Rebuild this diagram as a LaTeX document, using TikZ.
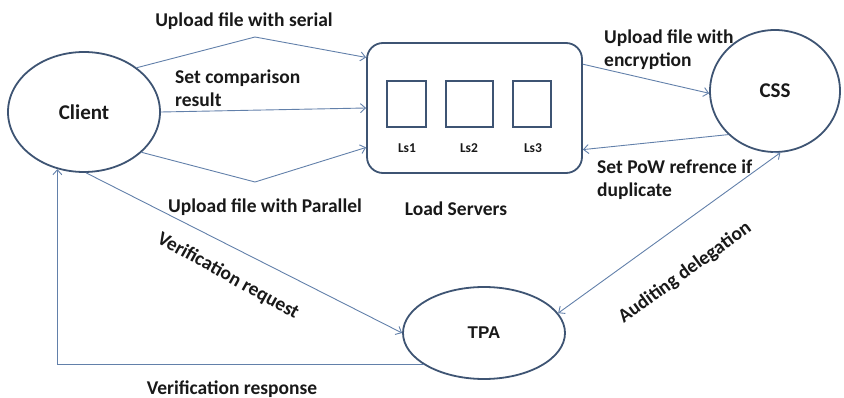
\documentclass[tikz,border=0pt]{standalone}
\usepackage{fontspec}
\setmainfont{Carlito}
\newfontfamily\arialfont{Liberation Sans}
\usepackage{tikz}
\usetikzlibrary{shapes.geometric,arrows.meta}

\definecolor{linha}{RGB}{98,128,170}
\definecolor{borda}{RGB}{62,84,115}
\definecolor{texto}{RGB}{25,25,25}

\tikzset{
  ator/.style={ellipse, draw=borda, line width=1.8pt, text=texto,
    font=\fontsize{21}{23}\selectfont\bfseries},
  seta/.style={draw=linha, line width=0.9pt, -{Straight Barb[length=5pt,width=9pt]}},
  seta2/.style={seta, {Straight Barb[length=5pt,width=9pt]}-{Straight Barb[length=5pt,width=9pt]}},
  rotulo/.style={font=\fontsize{19.5}{23}\selectfont\bfseries, text=texto, inner sep=0pt},
  caixa/.style={draw=borda, line width=2pt, minimum height=46pt, inner sep=0pt},
  nome/.style={font=\fontsize{13.5}{15}\selectfont\bfseries, text=texto, inner sep=0pt},
}

\begin{document}
\begin{tikzpicture}[x=1pt,y=-1pt]
\useasboundingbox (0,0) rectangle (844,398);
% entidades
\node[ator, minimum width=152pt, minimum height=120pt] (client) at (84,112) {Client};
\node[ator, minimum width=130pt, minimum height=122pt] (css) at (775,91) {CSS};
\node[ator, minimum width=162pt, minimum height=92pt,
  font=\arialfont\fontsize{17}{19}\selectfont\bfseries] (tpa) at (484,333) {TPA};

% servidores de carga
\node[draw=borda, line width=1.8pt, rounded corners=16pt,
  minimum width=215pt, minimum height=130pt] (ls) at (474.5,108) {};
\node[caixa, minimum width=39pt] (ls1) at (406.5,104) {};
\node[caixa, minimum width=47pt] (ls2) at (469.5,104) {};
\node[caixa, minimum width=38pt] (ls3) at (532,104) {};
\node[nome] (n1) at (407,148) {Ls1};
\node[nome] (n2) at (469,148) {Ls2};
\node[nome] (n3) at (533,148) {Ls3};
\node[rotulo] (lsnome) at (456,209) {Load Servers};

% client -> servidores
\coordinate (topo) at (255,37);
\coordinate (base) at (255,182);
\draw[seta] (client.40) -- (topo) -- (ls.155);
\draw[seta] (client.east) -- (ls.west);
\draw[seta] (client.325) -- (base) -- (ls.200);
\node[rotulo] (t1) at (244,21) {Upload file with serial};
\node[rotulo, align=left, anchor=west] (t2) at (175,88) {Set comparison\\result};
\node[rotulo] (t3) at (265,207) {Upload file with Parallel};

% servidores <-> CSS
\draw[seta] (ls.22) -- (css.182);
\draw[seta] (css.223) -- (ls.339);
\node[rotulo, align=left, anchor=west] (t4) at (604,50) {Upload file with\\encryption};
\node[rotulo, align=left, anchor=west] (t5) at (597,180) {Set PoW refrence if\\duplicate};

% auditoria
\draw[seta] (client.272) -- (tpa.west);
\draw[seta] (tpa.208) -| (client.245);
\draw[seta2] (tpa.15) -- (css.275);
\node[rotulo, rotate=-29] (t6) at (228,276) {Verification request};
\node[rotulo] (t7) at (232,389) {Verification response};
\node[rotulo, rotate=36] (t8) at (685,273) {Auditing delegation};
\end{tikzpicture}
\end{document}
